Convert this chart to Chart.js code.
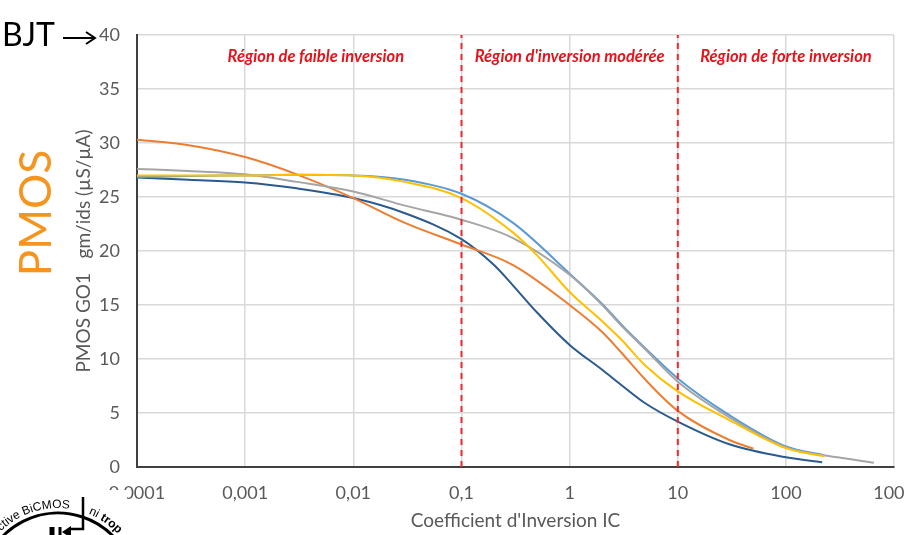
<!DOCTYPE html>
<html><head><meta charset="utf-8">
<script src="https://cdn.jsdelivr.net/npm/chart.js@4.4.1/dist/chart.umd.min.js"></script>
<style>
html,body{margin:0;padding:0;background:#fff;overflow:hidden;width:904px;height:535px}
#wrap{position:absolute;left:0;top:0;width:930px;height:535px}
</style></head><body>
<div id="wrap"><canvas id="c" width="930" height="535"></canvas></div>
<script>
// ---- data ----
const tickValues = [0.0001, 0.001, 0.01, 0.1, 1, 10, 100, 1000];
const tickLabels = ['0,0001', '0,001', '0,01', '0,1', '1', '10', '100', '1000'];

const xOrange = [0.0001, 0.0003, 0.001, 0.003, 0.01, 0.03, 0.1, 0.3, 1, 2, 3, 5, 10, 30, 50];
const yOrange = [30.3, 29.8, 28.7, 27.1, 24.9, 22.6, 20.6, 18.7, 15.0, 12.5, 10.6, 8.1, 5.2, 2.5, 1.7];

const xDarkBlue = [0.0001, 0.0003, 0.001, 0.003, 0.01, 0.03, 0.1, 0.2, 0.3, 0.5, 1, 2, 3, 5, 10, 30, 100, 216];
const yDarkBlue = [26.8, 26.6, 26.35, 25.8, 24.9, 23.5, 21.1, 18.7, 16.8, 14.3, 11.3, 9.0, 7.6, 5.9, 4.2, 2.1, 0.9, 0.45];

const xGray = [0.0001, 0.0003, 0.001, 0.003, 0.01, 0.03, 0.1, 0.3, 1, 2, 3, 5, 10, 30, 100, 300, 650];
const yGray = [27.6, 27.4, 27.1, 26.4, 25.5, 24.2, 22.9, 21.2, 17.8, 15.0, 13.1, 10.9, 7.9, 4.6, 1.8, 0.9, 0.4];

const xLightBlue = [0.0001, 0.0003, 0.001, 0.003, 0.01, 0.03, 0.1, 0.3, 1, 2, 3, 5, 10, 30, 100, 226];
const yLightBlue = [26.85, 26.95, 27.0, 27.05, 27.0, 26.6, 25.3, 22.6, 17.9, 15.1, 13.2, 11.0, 8.2, 4.8, 1.9, 1.1];

const xYellow = [0.0001, 0.0003, 0.001, 0.003, 0.01, 0.03, 0.1, 0.3, 0.5, 1, 2, 3, 5, 10, 30, 100, 226];
const yYellow = [27.0, 27.0, 27.0, 27.05, 27.0, 26.4, 24.9, 21.7, 19.6, 16.2, 13.5, 11.8, 9.4, 7.0, 4.35, 1.75, 1.0];

const regionBounds = [0.1, 10];
const regionLabels = ['Région de faible inversion', "Région d'inversion modérée", 'Région de forte inversion'];
const regionLabelX = [0.0045, 1, 100];
const regionLabelY = 38;

const yTitle = 'PMOS GO1   gm/ids (µS/µA)';
const xTitle = "Coefficient d'Inversion IC";

// ---- helpers ----
const pts = (xs, ys) => xs.map((x, i) => ({x: x, y: ys[i]}));
const series = (data, color) => ({
  data: data, borderColor: color, backgroundColor: color, borderWidth: 2,
  pointRadius: 0, fill: false, cubicInterpolationMode: 'monotone'
});
const vline = (x) => ({
  data: [{x: x, y: 0}, {x: x, y: 40}], borderColor: '#EE2A2F', borderWidth: 2,
  borderDash: [6, 5], pointRadius: 0, fill: false, tension: 0
});

const extras = {
  id: 'extras',
  afterDraw(chart) {
    const ctx = chart.ctx;
    const xs = chart.scales.x, ys = chart.scales.y;
    ctx.save();
    // region labels
    ctx.fillStyle = '#E3141B';
    ctx.font = 'italic bold 16.5px Lato';
    ctx.textAlign = 'center';
    ctx.textBaseline = 'middle';
    regionLabels.forEach((t, i) => {
      ctx.fillText(t, xs.getPixelForValue(regionLabelX[i]), ys.getPixelForValue(regionLabelY));
    });
    // BJT arrow
    ctx.fillStyle = '#000';
    ctx.font = '32px Lato';
    ctx.textAlign = 'left';
    ctx.textBaseline = 'alphabetic';
    ctx.fillText('BJT', 2, 46);
    ctx.strokeStyle = '#000';
    ctx.lineWidth = 2;
    ctx.beginPath();
    ctx.moveTo(63, 38); ctx.lineTo(94, 38);
    ctx.moveTo(86, 32); ctx.lineTo(95, 38); ctx.lineTo(86, 44);
    ctx.stroke();
    // PMOS orange
    ctx.save();
    ctx.translate(37, 213);
    ctx.rotate(-Math.PI / 2);
    ctx.fillStyle = '#F7941D';
    ctx.font = '44px Lato';
    ctx.textAlign = 'center';
    ctx.textBaseline = 'middle';
    ctx.fillText('PMOS', 0, 0);
    ctx.restore();
    // logo (white backdrop partly hiding the first tick label)
    ctx.fillStyle = '#fff';
    ctx.fillRect(0, 490, 127, 45);
    const cx = 58, cy = 590, r = 77;
    ctx.strokeStyle = '#000';
    ctx.lineWidth = 3;
    ctx.beginPath();
    ctx.arc(cx, cy, r, Math.PI * 1.1, Math.PI * 1.95);
    ctx.stroke();
    const arcText = (txt, font, endAngle, rad) => {
      ctx.font = font;
      ctx.textAlign = 'center';
      ctx.textBaseline = 'alphabetic';
      const w = ctx.measureText(txt).width;
      let a = endAngle - w / rad;
      for (const ch of txt) {
        const cw = ctx.measureText(ch).width;
        const am = a + cw / 2 / rad;
        ctx.save();
        ctx.translate(cx + rad * Math.cos(am), cy + rad * Math.sin(am));
        ctx.rotate(am + Math.PI / 2);
        ctx.fillText(ch, 0, 0);
        ctx.restore();
        a += cw / rad;
      }
    };
    ctx.fillStyle = '#000';
    arcText('ective BiCMOS', '12px "Liberation Sans"', -Math.PI / 2 + 0.14, 82);
    const st = -Math.PI / 2 + 0.38;
    ctx.font = '12px "Liberation Sans"';
    const wni = ctx.measureText('ni ').width;
    arcText('ni ', '12px "Liberation Sans"', st + wni / 82, 82);
    ctx.font = 'bold 12px "Liberation Sans"';
    const wtr = ctx.measureText('trop').width;
    arcText('trop', 'bold 12px "Liberation Sans"', st + wni / 82 + wtr / 82, 82);
    // transistor symbol
    ctx.lineWidth = 5;
    ctx.beginPath(); ctx.moveTo(52, 527); ctx.lineTo(52, 540); ctx.stroke();
    ctx.lineWidth = 3;
    ctx.beginPath(); ctx.moveTo(60, 527); ctx.lineTo(60, 540); ctx.stroke();
    ctx.beginPath(); ctx.moveTo(62, 532); ctx.lineTo(71, 526); ctx.lineTo(71, 538); ctx.closePath(); ctx.fill();
    ctx.lineWidth = 2.5;
    ctx.beginPath(); ctx.moveTo(70, 529); ctx.lineTo(83, 529); ctx.lineTo(83, 497); ctx.stroke();
    ctx.restore();
  }
};

Chart.defaults.font.family = 'Lato';
Chart.defaults.color = '#595959';

new Chart(document.getElementById('c'), {
  type: 'line',
  data: {
    datasets: [
      vline(regionBounds[0]),
      vline(regionBounds[1]),
      series(pts(xYellow, yYellow), '#FFC000'),
      series(pts(xGray, yGray), '#A5A5A5'),
      series(pts(xLightBlue, yLightBlue), '#5B9BD5'),
      series(pts(xOrange, yOrange), '#ED7D31'),
      series(pts(xDarkBlue, yDarkBlue), '#2B5A8E')
    ]
  },
  options: {
    responsive: false,
    animation: false,
    layout: {padding: {left: 0, right: 33, top: 35, bottom: 0}},
    plugins: {legend: {display: false}, tooltip: {enabled: false}},
    scales: {
      x: {
        type: 'logarithmic',
        min: tickValues[0], max: tickValues[tickValues.length - 1],
        afterBuildTicks: (s) => { s.ticks = tickValues.map(v => ({value: v})); },
        afterFit: (s) => { s.height = 68; },
        ticks: {
          autoSkip: false, maxRotation: 0, padding: 15,
          font: {size: 18}, color: '#595959',
          callback: (v) => { const i = tickValues.indexOf(v); return i >= 0 ? tickLabels[i] : ''; }
        },
        grid: {color: '#D9D9D9', lineWidth: 1.5, drawTicks: false},
        border: {color: '#404040', width: 2},
        title: {display: true, text: xTitle, font: {size: 19}, color: '#595959', padding: {top: 0, bottom: 3}}
      },
      y: {
        type: 'linear', min: 0, max: 40,
        afterFit: (s) => { s.width = 137; },
        ticks: {stepSize: 5, padding: 17, font: {size: 18}, color: '#595959'},
        grid: {color: '#D9D9D9', lineWidth: 1.5, drawTicks: false},
        border: {color: '#404040', width: 2},
        title: {display: true, text: yTitle, font: {size: 19}, color: '#595959', padding: {top: 72, bottom: 0}}
      }
    }
  },
  plugins: [extras]
});
</script>
</body></html>
